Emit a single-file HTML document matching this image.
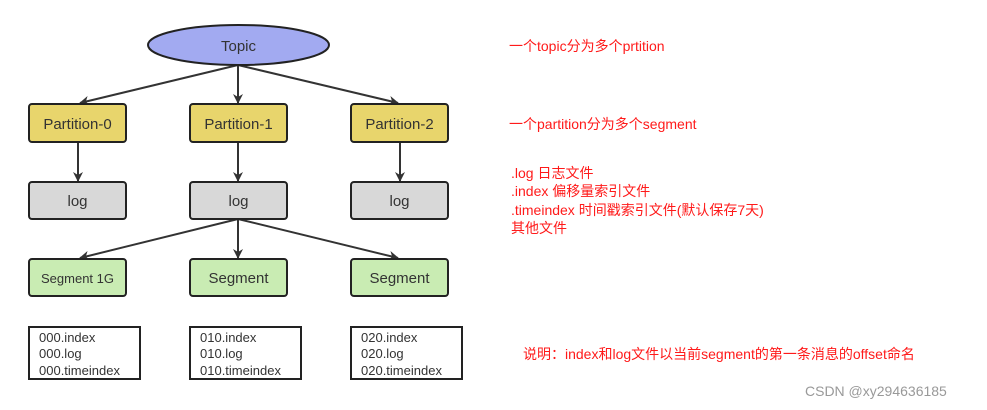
<!DOCTYPE html>
<html><head><meta charset="utf-8"><style>
html,body{margin:0;padding:0;background:#fff;}
svg{display:block}
text{font-family:"Liberation Sans","Noto Sans CJK SC",sans-serif;}
</style></head><body>
<svg width="987" height="410" viewBox="0 0 987 410" xmlns="http://www.w3.org/2000/svg">
<defs><marker id="a" markerWidth="10" markerHeight="10" refX="9" refY="5" orient="auto" markerUnits="userSpaceOnUse"><path d="M0,0 L10,5 L0,10 L3,5 z" fill="#333"/></marker></defs>
<g stroke="#333" stroke-width="2" fill="none" marker-end="url(#a)">
<line x1="238" y1="65" x2="80" y2="103"/>
<line x1="238" y1="65" x2="238" y2="103"/>
<line x1="238" y1="65" x2="398" y2="103"/>
<line x1="78" y1="142" x2="78" y2="181"/>
<line x1="238" y1="142" x2="238" y2="181"/>
<line x1="400" y1="142" x2="400" y2="181"/>
<line x1="238" y1="219" x2="80" y2="258"/>
<line x1="238" y1="219" x2="238" y2="258"/>
<line x1="238" y1="219" x2="398" y2="258"/>
</g>
<ellipse cx="238.5" cy="45" rx="90.5" ry="20" fill="#a2aaf1" stroke="#222" stroke-width="2"/>
<text x="238.5" y="51" font-size="15" fill="#333" text-anchor="middle">Topic</text>
<g stroke="#222" stroke-width="2">
<rect x="29" y="104" width="97" height="38" rx="3" fill="#e8d56c"/>
<rect x="190" y="104" width="97" height="38" rx="3" fill="#e8d56c"/>
<rect x="351" y="104" width="97" height="38" rx="3" fill="#e8d56c"/>
<rect x="29" y="182" width="97" height="37" rx="3" fill="#d8d8d8"/>
<rect x="190" y="182" width="97" height="37" rx="3" fill="#d8d8d8"/>
<rect x="351" y="182" width="97" height="37" rx="3" fill="#d8d8d8"/>
<rect x="29" y="259" width="97" height="37" rx="3" fill="#c9ecb3"/>
<rect x="190" y="259" width="97" height="37" rx="3" fill="#c9ecb3"/>
<rect x="351" y="259" width="97" height="37" rx="3" fill="#c9ecb3"/>
<rect x="29" y="327" width="111" height="52" fill="#fff"/>
<rect x="190" y="327" width="111" height="52" fill="#fff"/>
<rect x="351" y="327" width="111" height="52" fill="#fff"/>
</g>
<g font-size="15" fill="#333" text-anchor="middle">
<text x="77.5" y="129">Partition-0</text>
<text x="238.5" y="129">Partition-1</text>
<text x="399.5" y="129">Partition-2</text>
<text x="77.5" y="206">log</text>
<text x="238.5" y="206">log</text>
<text x="399.5" y="206">log</text>
<text x="77.5" y="283" font-size="13">Segment 1G</text>
<text x="238.5" y="283">Segment</text>
<text x="399.5" y="283">Segment</text>
</g>
<g font-size="13" fill="#333">
<text x="39" y="342">000.index</text><text x="39" y="358">000.log</text><text x="39" y="375">000.timeindex</text>
<text x="200" y="342">010.index</text><text x="200" y="358">010.log</text><text x="200" y="375">010.timeindex</text>
<text x="361" y="342">020.index</text><text x="361" y="358">020.log</text><text x="361" y="375">020.timeindex</text>
</g>
<g font-size="14" fill="#ff1a1a">
<text x="509" y="51">一个topic分为多个prtition</text>
<text x="509" y="129">一个partition分为多个segment</text>
<text x="511" y="178">.log 日志文件</text>
<text x="511" y="196">.index 偏移量索引文件</text>
<text x="511" y="215">.timeindex 时间戳索引文件(默认保存7天)</text>
<text x="511" y="233">其他文件</text>
<text x="523" y="359">说明：index和log文件以当前segment的第一条消息的offset命名</text>
</g>
<text x="805" y="396" font-size="14" fill="#999">CSDN @xy294636185</text>
</svg>
</body></html>
